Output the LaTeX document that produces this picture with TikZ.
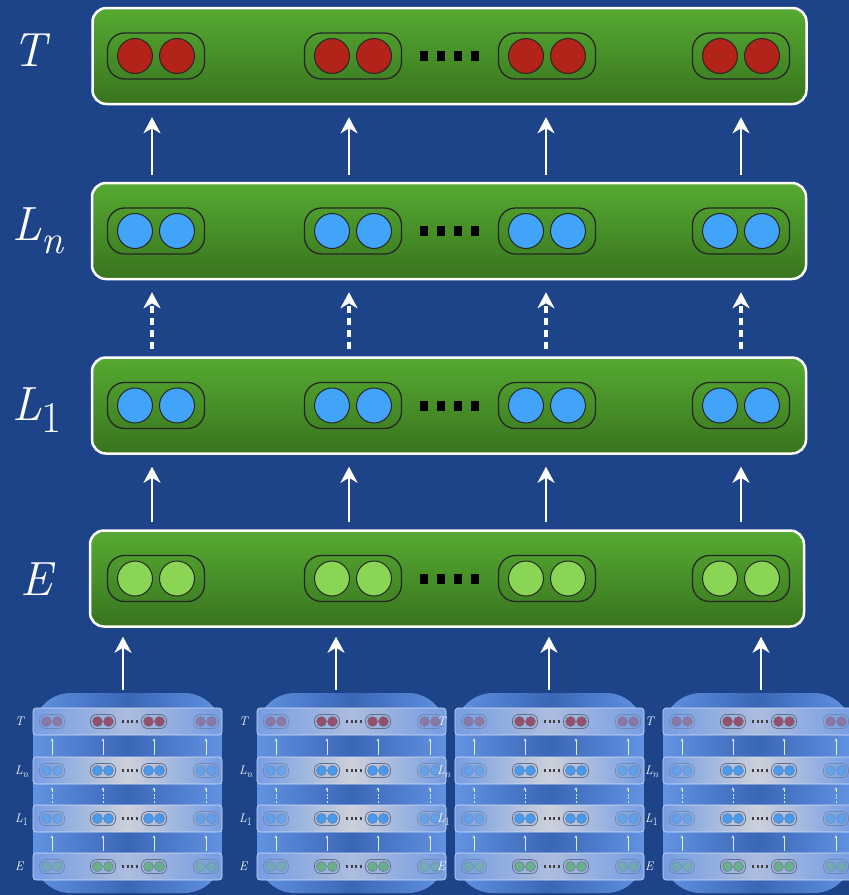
\documentclass[tikz,border=0pt]{standalone}
\usepackage{amsmath}
\usetikzlibrary{arrows.meta}

\definecolor{fons}{RGB}{29,67,136}
\definecolor{greentop}{RGB}{86,170,50}
\definecolor{greenbot}{RGB}{56,116,30}
\definecolor{unitred}{RGB}{178,36,26}
\definecolor{unitblue}{RGB}{66,164,248}
\definecolor{unitgreen}{RGB}{138,214,84}
\definecolor{boxside}{RGB}{98,146,226}
\definecolor{boxmid}{RGB}{58,102,182}
\definecolor{rowside}{RGB}{118,158,228}
\definecolor{rowmidA}{RGB}{172,188,222}
\definecolor{rowmidB}{RGB}{204,208,218}
\definecolor{minired}{RGB}{150,80,105}
\definecolor{miniblue}{RGB}{70,155,240}
\definecolor{minigreen}{RGB}{105,175,140}
\definecolor{minirim}{RGB}{100,110,135}

% etiquetes de capa (text en cursiva, amb subindex)
\newcommand{\labT}{\textit{T}}
\newcommand{\labLn}{\textit{L}\raisebox{-13pt}{\fontsize{40}{42}\selectfont\textit{n}}}
\newcommand{\labLone}{\textit{L}\raisebox{-12pt}{\fontsize{44}{46}\selectfont 1}}
\newcommand{\labE}{\textit{E}}

\begin{document}
\begin{tikzpicture}[x=1pt, y=-1pt,
    layer/.style={draw=white, line width=2.5pt, rounded corners=14pt, top color=greentop,
        bottom color=greenbot, minimum width=714pt, minimum height=96pt, inner sep=0pt},
    pairbox/.style={draw=black!85, line width=1.3pt, rounded corners=17pt,
        minimum width=97pt, minimum height=46pt, inner sep=0pt},
    unit/.style={circle, draw=black!85, line width=1pt, minimum size=35pt, inner sep=0pt},
    arr/.style={white, line width=2.6pt, -{Stealth[length=16pt, width=17pt, inset=5pt]}},
    darr/.style={arr, line width=3.3pt, dash pattern=on 7pt off 5pt},
    biglabel/.style={text=white, inner sep=0pt, anchor=base west, font=\fontsize{48}{50}\selectfont},
    minibox/.style={rounded corners=38pt, left color=boxside, right color=boxside, middle color=boxmid,
        minimum width=189pt, minimum height=200pt, inner sep=0pt},
    minirow/.style={draw=white!70!boxside, line width=0.6pt, rounded corners=3pt, minimum width=189pt,
        minimum height=27pt, inner sep=0pt},
    minipair/.style={draw=minirim, line width=0.8pt, rounded corners=6pt,
        minimum width=25pt, minimum height=14pt, inner sep=0pt},
    miniunit/.style={circle, draw=minirim, line width=0.4pt, minimum size=10pt, inner sep=0pt},
    miniarr/.style={white!80!boxside, line width=0.6pt, -{Stealth[length=3pt, width=3pt]},
        shorten <=2pt, shorten >=3pt},
    minidarr/.style={miniarr, dash pattern=on 2pt off 1.5pt},
    minilabel/.style={biglabel, scale=0.26}
]
    % 1. FONS
    \useasboundingbox (0,0) rectangle (849,895);
    \clip (0,0) rectangle (849,895);
    \fill[fons] (0,0) rectangle (849,895);

    % 2. CAPES PRINCIPALS
    \foreach \nm/\xc/\yc/\col in {T/449.5/56/unitred, Ln/449/231/unitblue,
        L1/449/405.5/unitblue, E/447/578.5/unitgreen} {
        \node[layer] (\nm) at (\xc,\yc) {};
        \foreach \k/\px in {1/156, 2/353, 3/547, 4/741} {
            \node[pairbox] (\nm-\k) at (\px,\yc) {};
            \node[unit, fill=\col] (\nm-\k-a) at ([xshift=-21pt]\nm-\k.center) {};
            \node[unit, fill=\col] (\nm-\k-b) at ([xshift=21pt]\nm-\k.center) {};
        }
        \foreach \d in {0,...,3}
            \fill[black] ({420+17*\d},{\yc-5}) rectangle ++(8,10);
    }

    % Etiquetes de les capes
    \node[biglabel] (labT)  at (12,66)  {\labT};
    \node[biglabel] (labLn) at (12,240) {\labLn};
    \node[biglabel] (labL1) at (12,420) {\labLone};
    \node[biglabel] (labE)  at (20,595) {\labE};

    % 3. FLETXES ENTRE CAPES
    \foreach \lo/\hi/\sty in {Ln/T/arr, L1/Ln/darr, E/L1/arr}
        \foreach \ax in {152,349,546,741}
            \draw[\sty, shorten <=7pt, shorten >=12pt] (\lo.north -| \ax,0) -- (\hi.south -| \ax,0);

    % 4. COPIES PETITES A BAIX
    \foreach \i/\bx/\ax in {1/33/123, 2/257/336, 3/455/549, 4/663/761} {
        \begin{scope}[shift={(\bx,0)}]
            \node[minibox] (mb\i) at (94.5,793) {};
            \foreach \nm/\yc/\col/\mid/\lab/\base in {T/721.5/minired/rowmidA/\labT/725,
                Ln/770.5/miniblue/rowmidB/\labLn/774, L1/818.5/miniblue/rowmidB/\labLone/822,
                E/866.5/minigreen/rowmidA/\labE/870} {
                \node[minirow, left color=rowside, right color=rowside, middle color=\mid]
                    (m\i-\nm) at (94.5,\yc) {};
                \node[minilabel] (m\i-lab-\nm) at (-18,\base) {\lab};
                \foreach \k/\px/\op in {1/19/0.5, 2/70/1, 3/121/1, 4/173/0.5} {
                    \node[minipair, opacity=\op] (m\i-\nm-\k) at (\px,\yc) {};
                    \node[miniunit, fill=\col, opacity=\op] (m\i-\nm-\k-a) at ([xshift=-5.5pt]m\i-\nm-\k.center) {};
                    \node[miniunit, fill=\col, opacity=\op] (m\i-\nm-\k-b) at ([xshift=5.5pt]m\i-\nm-\k.center) {};
                }
                \foreach \d in {0,...,3}
                    \fill[black!75] ({89+4.5*\d},{\yc-1.2}) rectangle ++(2.4,2.4);
            }
            \foreach \lo/\hi/\sty in {Ln/T/miniarr, L1/Ln/minidarr, E/L1/miniarr}
                \foreach \cx in {19,70,121,173}
                    \draw[\sty] (m\i-\lo.north -| \cx,0) -- (m\i-\hi.south -| \cx,0);
        \end{scope}
        \draw[arr, shorten <=3pt, shorten >=9pt] (mb\i.north -| \ax,0) -- (E.south -| \ax,0);
    }

\end{tikzpicture}
\end{document}
